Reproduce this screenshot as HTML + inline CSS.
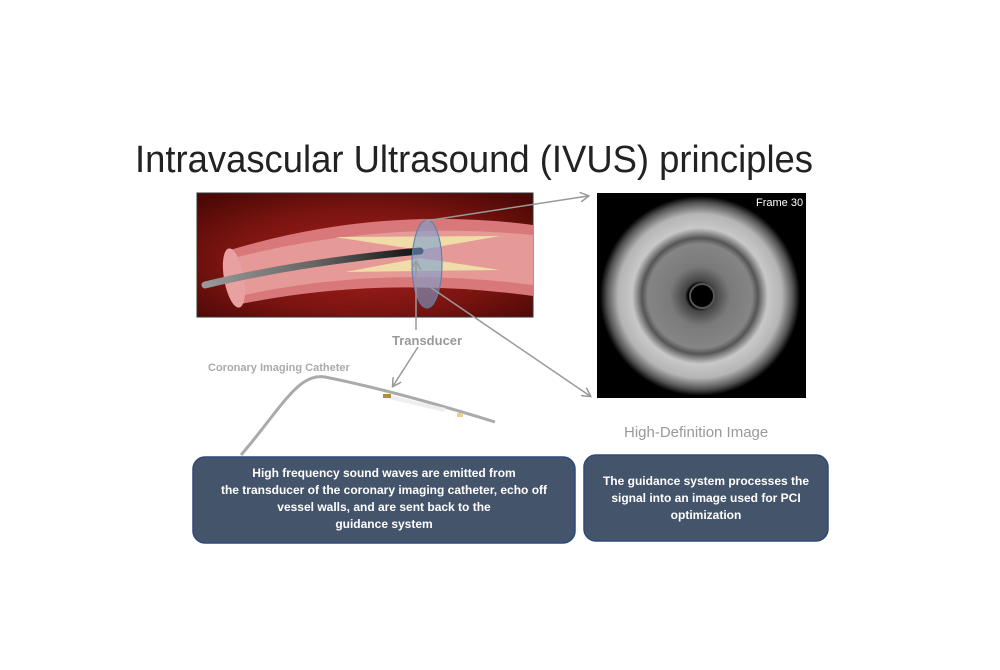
<!DOCTYPE html>
<html><head><meta charset="utf-8"><style>
html,body{margin:0;padding:0;background:#fff;}
svg{display:block;}
</style></head><body>
<svg width="1000" height="670" viewBox="0 0 1000 670" xmlns="http://www.w3.org/2000/svg" font-family="Liberation Sans, sans-serif">
<defs>
<radialGradient id="bg" cx="0.5" cy="0.55" r="0.7">
<stop offset="0" stop-color="#a8201c"/><stop offset="0.6" stop-color="#7a1410"/><stop offset="1" stop-color="#4a0806"/>
</radialGradient>
<linearGradient id="cath" x1="0" y1="0" x2="1" y2="0">
<stop offset="0" stop-color="#999"/><stop offset="0.5" stop-color="#666"/><stop offset="1" stop-color="#111"/>
</linearGradient>
<radialGradient id="ivus" cx="0.5" cy="0.5" r="0.5">
<stop offset="0" stop-color="#000"/><stop offset="0.12" stop-color="#000"/><stop offset="0.15" stop-color="#444"/>
<stop offset="0.3" stop-color="#7a7a7a"/><stop offset="0.52" stop-color="#858585"/><stop offset="0.58" stop-color="#555"/>
<stop offset="0.68" stop-color="#c8c8c8"/><stop offset="0.82" stop-color="#b5b5b5"/><stop offset="0.93" stop-color="#555"/><stop offset="1" stop-color="#000"/>
</radialGradient>
<marker id="ah" markerWidth="10" markerHeight="10" refX="8" refY="5" orient="auto" markerUnits="userSpaceOnUse">
<path d="M0,0 L9,5 L0,10" fill="none" stroke="#999" stroke-width="1.5"/>
</marker>
</defs>

<text x="135" y="172" font-size="38" fill="#222" textLength="678" lengthAdjust="spacingAndGlyphs">Intravascular Ultrasound (IVUS) principles</text>

<rect x="197" y="193" width="336" height="124" fill="url(#bg)" stroke="#333"/>
<path d="M230,250 Q380,205 533,225 L533,296 Q380,275 236,305 Z" fill="#d8787a"/>
<path d="M234,258 Q380,220 533,235 L533,285 Q380,265 240,296 Z" fill="#e59a98"/>
<path d="M335,237 L500,236 L420,250 Z" fill="#f0dca8"/>
<path d="M345,272 L500,270 L420,258 Z" fill="#f0dca8"/>
<ellipse cx="234" cy="278" rx="10" ry="30" fill="#e8a0a0" transform="rotate(-10 234 278)"/>
<path d="M205,285 Q300,262 420,251" stroke="url(#cath)" stroke-width="7" fill="none" stroke-linecap="round"/>
<ellipse cx="427" cy="264" rx="15" ry="44" fill="#7aa0d0" fill-opacity="0.6" stroke="#5a7aa8"/>

<line x1="425" y1="221" x2="588" y2="196" stroke="#999" stroke-width="1.5" marker-end="url(#ah)"/>
<line x1="430" y1="287" x2="590" y2="396" stroke="#999" stroke-width="1.5" marker-end="url(#ah)"/>
<line x1="416" y1="330" x2="416" y2="262" stroke="#999" stroke-width="1.5" marker-end="url(#ah)"/>
<line x1="418" y1="347" x2="393" y2="386" stroke="#999" stroke-width="1.5" marker-end="url(#ah)"/>

<text x="392" y="345" font-size="13" font-weight="bold" fill="#999">Transducer</text>
<text x="208" y="371" font-size="11" font-weight="bold" fill="#aaa">Coronary Imaging Catheter</text>

<path d="M241,455 C280,410 298,372 325,377 C380,388 440,405 495,422" stroke="#aaa" stroke-width="3" fill="none"/>
<path d="M385,396 L445,410" stroke="#eee" stroke-width="4"/>
<rect x="383" y="394" width="8" height="4" fill="#b09040"/>
<rect x="457" y="413" width="6" height="4" fill="#e8d090"/>

<rect x="597" y="193" width="209" height="205" fill="#000"/>
<circle cx="700" cy="296" r="100" fill="url(#ivus)"/>
<circle cx="702" cy="296" r="12" fill="#000" stroke="#555" stroke-width="2"/>
<text x="756" y="206" font-size="11" fill="#fff">Frame 30</text>
<text x="624" y="437" font-size="15" fill="#999">High-Definition Image</text>

<rect x="193" y="457" width="382" height="86" rx="12" fill="#44546a" stroke="#2e4a7a" stroke-width="1.5"/>
<g font-size="12" font-weight="bold" fill="#fff" text-anchor="middle">
<text x="384" y="477">High frequency sound waves are emitted from</text>
<text x="384" y="494">the transducer of the coronary imaging catheter, echo off</text>
<text x="384" y="511">vessel walls, and are sent back to the</text>
<text x="384" y="528">guidance system</text>
</g>
<rect x="584" y="455" width="244" height="86" rx="12" fill="#44546a" stroke="#2e4a7a" stroke-width="1.5"/>
<g font-size="12" font-weight="bold" fill="#fff" text-anchor="middle">
<text x="706" y="485">The guidance system processes the</text>
<text x="706" y="502">signal into an image used for PCI</text>
<text x="706" y="519">optimization</text>
</g>
</svg>
</body></html>
